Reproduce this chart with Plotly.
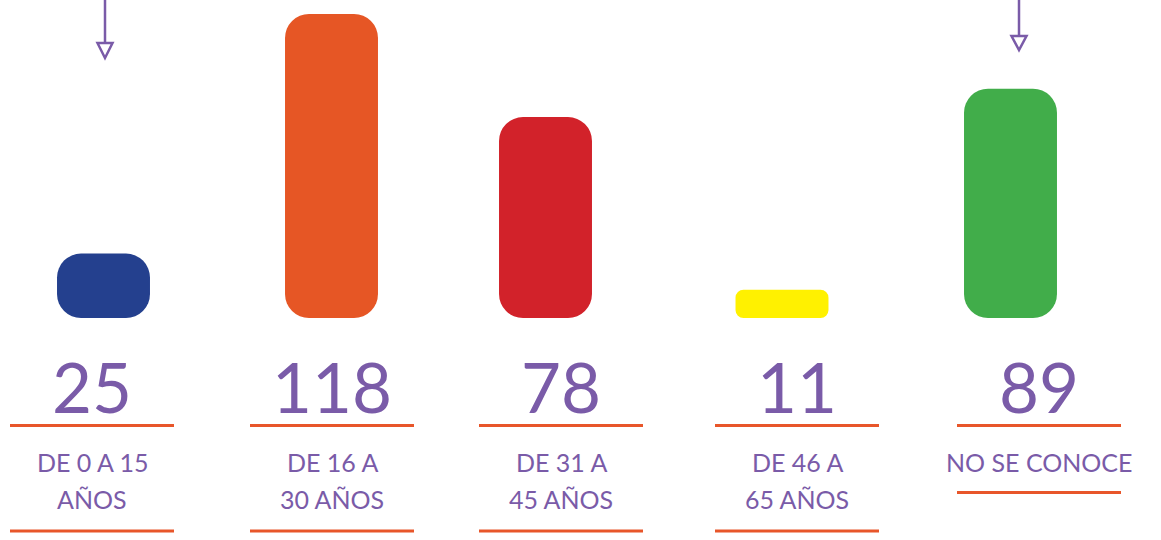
import plotly.graph_objects as go

# ---- data ----
categories = ["DE 0 A 15 AÑOS", "DE 16 A 30 AÑOS", "DE 31 A 45 AÑOS", "DE 46 A 65 AÑOS", "NO SE CONOCE"]
values = [25, 118, 78, 11, 89]
label_lines = [["DE 0 A 15", "AÑOS"], ["DE 16 A", "30 AÑOS"], ["DE 31 A", "45 AÑOS"],
               ["DE 46 A", "65 AÑOS"], ["NO SE CONOCE"]]
arrow_on = [True, False, False, False, True]

# ---- style ----
bar_colors = ["#24408E", "#E65625", "#D2222A", "#FFF100", "#41AD4A"]
corner_r = [24, 24, 24, 8, 24]
bar_shift = [0, 1.25, -11.5, -1.75, 0]          # px, bar offset from category slot
text_shift = [-11.5, 1.75, 4, 13.25, 28.5]     # px, text column offset from slot
arrow_shift = [1.5, 0, 0, 0, 8.5]
arrow_stem = [43, 0, 0, 0, 36]
arrow_head = [15, 0, 0, 0, 14]
PURPLE = "#7A5BA8"
LINE_OR = "#E8562A"
FONT = "Lato"
W, H = 1161, 540
SLOT = 226.75   # px per category
BW = 0.41       # bar width in category units

fig = go.Figure()
for i, (c, v) in enumerate(zip(categories, values)):
    fig.add_trace(go.Bar(x=[c], y=[v], base=[0], width=BW,
                         offset=bar_shift[i] / SLOT - BW / 2,
                         marker=dict(color=bar_colors[i], cornerradius=corner_r[i], line=dict(width=0)),
                         hoverinfo="skip", showlegend=False))

def py(p):  # pixel from top -> paper
    return 1 - p / H

annotations = []
shapes = []
for i, c in enumerate(categories):
    s = text_shift[i]
    annotations.append(dict(x=c, xref="x", y=py(383), yref="paper", text=str(values[i]),
                            showarrow=False, xshift=s, yanchor="middle", yshift=-3,
                            font=dict(family=FONT, size=69, color=PURPLE)))
    for j, ln in enumerate(label_lines[i]):
        annotations.append(dict(x=c, xref="x", y=py(461.5 + 37.5 * j), yref="paper", text=ln,
                                showarrow=False, xshift=s, yanchor="middle", yshift=0,
                                font=dict(family=FONT, size=25, color=PURPLE)))
    line_ys = [425.5, 531] if len(label_lines[i]) == 2 else [425.5, 492.5]
    for ly in line_ys:
        shapes.append(dict(type="line", xref="x", xsizemode="pixel", xanchor=c,
                           x0=s - 82, x1=s + 82, yref="paper", y0=py(ly), y1=py(ly),
                           line=dict(color=LINE_OR, width=3)))
    if arrow_on[i]:
        a = arrow_shift[i]
        st = arrow_stem[i]
        hd = arrow_head[i]
        shapes.append(dict(type="line", xref="x", xsizemode="pixel", xanchor=c,
                           x0=a, x1=a, yref="paper", ysizemode="pixel", yanchor=1,
                           y0=5, y1=-st, line=dict(color=PURPLE, width=2.5)))
        shapes.append(dict(type="path", xref="x", xsizemode="pixel", xanchor=c,
                           yref="paper", ysizemode="pixel", yanchor=1,
                           path=f"M {a-7.5},{-st} L {a+7.5},{-st} L {a},{-st-hd} Z",
                           line=dict(color=PURPLE, width=2.5), fillcolor="white"))

ppu = (318 - 14) / 118.0
fig.update_layout(
    width=W, height=H, margin=dict(l=0, r=0, t=0, b=0),
    paper_bgcolor="white", plot_bgcolor="white",
    barmode="overlay", showlegend=False,
    xaxis=dict(type="category", range=[-103.5 / SLOT, -103.5 / SLOT + W / SLOT],
               visible=False, fixedrange=True),
    yaxis=dict(range=[-(H - 318) / ppu, 318 / ppu], visible=False, fixedrange=True),
    annotations=annotations, shapes=shapes,
)
fig.write_html("out.html")
